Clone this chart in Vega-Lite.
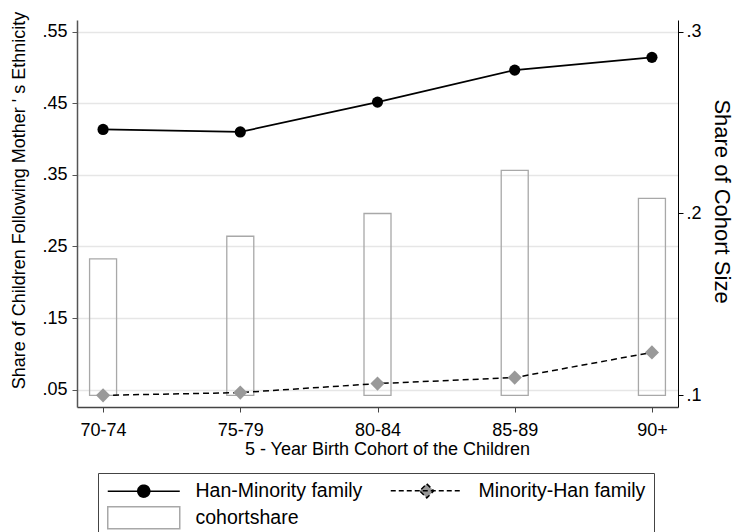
{
  "$schema": "https://vega.github.io/schema/vega-lite/v6.json",
  "width": 601,
  "height": 387,
  "autosize": {"type": "none"},
  "padding": {"left": 77, "top": 20, "right": 57, "bottom": 125},
  "background": "white",
  "config": {
    "font": "Liberation Sans",
    "view": {"stroke": null},
    "axis": {
      "labelFont": "Liberation Sans",
      "titleFont": "Liberation Sans",
      "labelFontSize": 18,
      "titleFontSize": 18,
      "labelColor": "black",
      "titleColor": "black",
      "titleFontWeight": "normal",
      "tickSize": 5
    }
  },
  "data": {
    "values": [
      {"cohort": "70-74", "han": 0.4135, "minority": 0.042, "share": 0.175},
      {"cohort": "75-79", "han": 0.410, "minority": 0.0458, "share": 0.1875},
      {"cohort": "80-84", "han": 0.4517, "minority": 0.0584, "share": 0.2},
      {"cohort": "85-89", "han": 0.4964, "minority": 0.0668, "share": 0.2237},
      {"cohort": "90+", "han": 0.5142, "minority": 0.102, "share": 0.2083}
    ]
  },
  "layer": [
    {
      "mark": {"type": "bar", "fill": "transparent", "stroke": "#a8a8a8", "strokeWidth": 1.3, "size": 27},
      "encoding": {
        "x": {
          "field": "cohort", "type": "ordinal", "sort": null,
          "scale": {"type": "point", "padding": 0.19},
          "axis": {
            "title": "5 - Year Birth Cohort of the Children",
            "labelAngle": 0, "domainColor": "#444", "tickColor": "#444",
            "domainWidth": 1.5, "labelPadding": 9, "titlePadding": 1, "grid": false,
            "titleX": 310
          }
        },
        "y": {
          "field": "share", "type": "quantitative",
          "scale": {"domain": [0.0936, 0.3064], "nice": false, "zero": false},
          "axis": {
            "orient": "right", "title": "Share of Cohort Size",
            "values": [0.1, 0.2, 0.3],
            "labelExpr": "replace(format(datum.value, '.1f'), '0.', '.')",
            "domainColor": "black", "tickColor": "black", "grid": false,
            "labelPadding": 3, "titlePadding": 8, "titleY": 181, "titleFontSize": 22
          }
        },
        "y2": {"datum": 0.1}
      }
    },
    {
      "encoding": {
        "x": {"field": "cohort", "type": "ordinal", "sort": null}
      },
      "layer": [
        {
          "mark": {"type": "line", "strokeWidth": 1.7},
          "encoding": {
            "y": {
              "field": "han", "type": "quantitative",
              "scale": {"domain": [0.0257, 0.5664], "nice": false, "zero": false},
              "axis": {
                "orient": "left",
                "title": "Share of Children Following Mother ' s Ethnicity",
                "values": [0.05, 0.15, 0.25, 0.35, 0.45, 0.55],
                "labelExpr": "replace(format(datum.value, '.2f'), '0.', '.')",
                "domainColor": "#555", "tickColor": "#555", "domainWidth": 1.5,
                "grid": true, "gridColor": "#e6e6e6", "gridWidth": 1.5,
                "labelPadding": 5, "titlePadding": 13, "titleY": 180
              }
            },
            "stroke": {
              "datum": "Han-Minority family", "type": "nominal",
              "scale": {
                "domain": ["Han-Minority family", "Minority-Han family", "cohortshare"],
                "range": ["black", "black", "#a8a8a8"]
              },
              "legend": {
                "title": null,
                "orient": "none",
                "legendX": 21,
                "legendY": 453,
                "direction": "horizontal",
                "columns": 2,
                "strokeColor": "#444",
                "fillColor": "white",
                "padding": 8,
                "labelFont": "Liberation Sans",
                "labelFontSize": 19.5,
                "labelColor": "black",
                "labelLimit": 300,
                "symbolSize": 144,
                "symbolStrokeWidth": 1.5,
                "symbolOpacity": 1,
                "labelOffset": 70,
                "columnPadding": 24,
                "rowPadding": 2,
                "symbolType": {"expr": "datum.value == 'Han-Minority family' ? 'M-1.333,0H10.67M5.67,0A1,1,0,1,1,3.67,0A1,1,0,1,1,5.67,0Z' : (datum.value == 'Minority-Han family' ? 'M-1.333,0H10.67M4.67,-1.17L5.84,0L4.67,1.17L3.5,0Z' : 'M-1.333,-1.83H10.67V1.83H-1.333Z')"},
                "symbolFillColor": {"expr": "datum.value == 'Han-Minority family' ? 'black' : (datum.value == 'Minority-Han family' ? '#999999' : 'white')"},
                "symbolDash": {"expr": "datum.value == 'Minority-Han family' ? [5, 3] : [1, 0]"}
              }
            }
          }
        },
        {
          "mark": {"type": "point", "shape": "circle", "filled": true, "color": "black", "size": 125, "opacity": 1},
          "encoding": {"y": {"field": "han", "type": "quantitative"}}
        },
        {
          "mark": {"type": "line", "color": "black", "strokeWidth": 1.5, "strokeDash": [6, 4]},
          "encoding": {"y": {"field": "minority", "type": "quantitative"}}
        },
        {
          "mark": {"type": "point", "shape": "diamond", "filled": true, "color": "#999999", "size": 200, "opacity": 1},
          "encoding": {"y": {"field": "minority", "type": "quantitative"}}
        }
      ]
    }
  ],
  "resolve": {"scale": {"y": "independent"}}
}
